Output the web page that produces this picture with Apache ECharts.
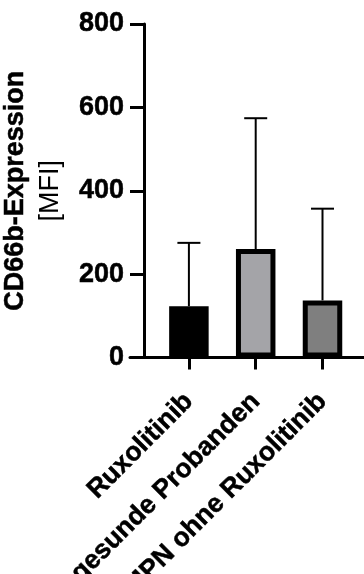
<!DOCTYPE html>
<html>
<head>
<meta charset="utf-8">
<script src="https://cdn.jsdelivr.net/npm/echarts@6/dist/echarts.min.js"></script>
<style>
  html, body { margin: 0; padding: 0; background: #fff; }
  #chart { width: 364px; height: 574px; }
</style>
</head>
<body>
<div id="chart"></div>
<script>
// data
var categories = ['Ruxolitinib', 'gesunde Probanden', 'MPN ohne Ruxolitinib'];
var means = [123, 260, 137];
var sds = [152, 314, 220];
var yTicks = [0, 200, 400, 600, 800];

var barColors = ['#000000', '#a4a4a8', '#7f7f7f'];
var font = 'Liberation Sans, Arial, Helvetica, sans-serif';

var myChart = echarts.init(document.getElementById('chart'));

var option = {
    animation: false,
    grid: [
        { left: 155.5, width: 200.4, top: 24, bottom: 216.5, containLabel: false, outerBoundsMode: 'none' },
        { left: 130, right: 0, top: 24, bottom: 216.5, containLabel: false, outerBoundsMode: 'none' }
    ],
    xAxis: [
        {
            type: 'category',
            gridIndex: 0,
            data: categories,
            axisLine: { show: false },
            axisTick: {
                show: true,
                alignWithLabel: true,
                length: 12,
                lineStyle: { color: '#000', width: 3 }
            },
            axisLabel: {
                rotate: 45,
                interval: 0,
                margin: 40,
                color: '#000',
                fontFamily: font,
                fontWeight: 'bold',
                fontSize: 26.5,
                textBorderColor: '#000',
                textBorderWidth: 0.5
            }
        },
        {
            // long base line of the plot, starts left of the y axis
            type: 'value',
            gridIndex: 1,
            min: 0,
            max: 1,
            axisLine: { show: true, lineStyle: { color: '#000', width: 3 } },
            axisTick: { show: false },
            axisLabel: { show: false },
            splitLine: { show: false }
        }
    ],
    yAxis: [
        {
            type: 'value',
            gridIndex: 0,
            min: yTicks[0],
            max: yTicks[yTicks.length - 1],
            interval: 200,
            offset: 11.5,
            axisLine: { show: true, lineStyle: { color: '#000', width: 3 } },
            axisTick: { show: true, length: 14, lineStyle: { color: '#000', width: 3 } },
            splitLine: { show: false },
            axisLabel: {
                margin: 20,
                color: '#000',
                fontFamily: font,
                fontWeight: 'bold',
                fontSize: 27,
                textBorderColor: '#000',
                textBorderWidth: 0.5
            },
            name: '{b|CD66b-Expression}\n{r|[MFI]}',
            nameLocation: 'middle',
            nameRotate: 90,
            nameGap: 59,
            nameTextStyle: {
                color: '#000',
                lineHeight: 35,
                rich: {
                    b: { fontFamily: font, fontWeight: 'bold', fontSize: 27, color: '#000', lineHeight: 35, textBorderColor: '#000', textBorderWidth: 0.5 },
                    r: { fontFamily: font, fontWeight: 'normal', fontSize: 27, color: '#000', lineHeight: 35 }
                }
            }
        },
        {
            type: 'value',
            gridIndex: 1,
            min: 0,
            max: 800,
            show: false
        }
    ],
    series: [
        {
            type: 'bar',
            xAxisIndex: 0,
            yAxisIndex: 0,
            barWidth: 39.5,
            z: 2,
            data: means.map(function (v, i) {
                return {
                    value: v,
                    itemStyle: { color: barColors[i], borderColor: '#000', borderWidth: 5 }
                };
            })
        },
        {
            // error bars, upper half only
            type: 'custom',
            xAxisIndex: 0,
            yAxisIndex: 0,
            z: 1,
            data: means.map(function (v, i) { return [i, v, v + sds[i]]; }),
            renderItem: function (params, api) {
                var low = api.coord([api.value(0), api.value(1)]);
                var high = api.coord([api.value(0), api.value(2)]);
                var half = 11.5;
                var style = { stroke: '#000', lineWidth: 2 };
                return {
                    type: 'group',
                    children: [
                        { type: 'line', shape: { x1: high[0], y1: low[1], x2: high[0], y2: high[1] }, style: style },
                        { type: 'line', shape: { x1: high[0] - half, y1: high[1], x2: high[0] + half, y2: high[1] }, style: style }
                    ]
                };
            }
        }
    ]
};

myChart.setOption(option);
window.addEventListener('resize', function () {
    myChart.resize();
});
</script>
</body>
</html>
